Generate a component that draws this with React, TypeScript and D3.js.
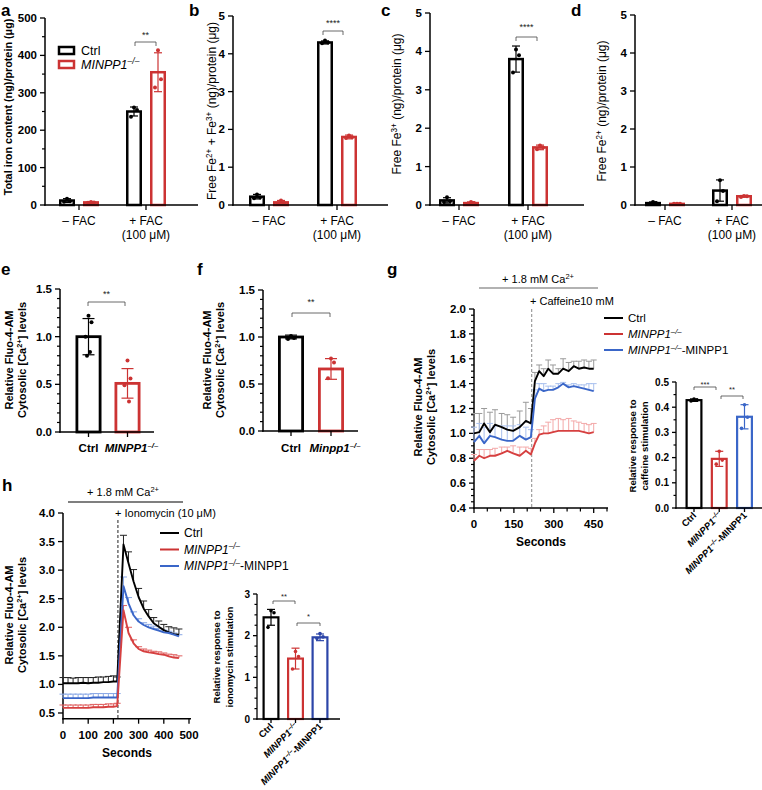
import React from "react";
import * as d3 from "d3";

const FONT = "'Liberation Sans', Arial, Helvetica, sans-serif";
const BLK = "#000";
const RED = "#cc3333";
const BLUE = "#3a66c8";
const DBLUE = "#2c45a8";

// ---------- a–d : iron content ----------
const feGroups = ["– FAC", "+ FAC"];
const feGroupSub = ["", "(100 μM)"];
const feSeries = ["Ctrl", "MINPP1"];

const aCtrl = [12, 250];
const aCtrlSd = [5, 12];
const aCtrlPts = [[17, 10, 9], [261, 254, 236]];
const aKo = [7, 355];
const aKoSd = [2, 52];
const aKoPts = [[8, 7, 6], [414, 336, 314]];
const aTicks = [0, 100, 200, 300, 400, 500];
const aMinor = [50, 150, 250, 350, 450];

const bCtrl = [0.22, 4.3];
const bCtrlSd = [0.06, 0.04];
const bCtrlPts = [[0.28, 0.2, 0.18], [4.35, 4.3, 4.28]];
const bKo = [0.07, 1.8];
const bKoSd = [0.05, 0.05];
const bKoPts = [[0.12, 0.05, 0.04], [1.84, 1.79, 1.77]];

const cCtrl = [0.12, 3.8];
const cCtrlSd = [0.07, 0.34];
const cCtrlPts = [[0.2, 0.1, 0.08], [4.05, 3.9, 3.45]];
const cKo = [0.05, 1.5];
const cKoSd = [0.03, 0.06];
const cKoPts = [[0.08, 0.05, 0.03], [1.55, 1.5, 1.45]];

const dCtrl = [0.05, 0.38];
const dCtrlSd = [0.03, 0.28];
const dCtrlPts = [[0.08, 0.05, 0.03], [0.65, 0.37, 0.1]];
const dKo = [0.03, 0.23];
const dKoSd = [0.01, 0.02];
const dKoPts = [[0.03, 0.03, 0.03], [0.24, 0.23, 0.21]];
const feTicks = [0, 1, 2, 3, 4, 5];

// ---------- e, f : cytosolic Ca ----------
const eCats = ["Ctrl", "MINPP1"];
const eMean = [1.0, 0.51];
const eSd = [0.19, 0.155];
const ePts = [[1.22, 1.15, 1.0, 0.84, 0.8], [0.75, 0.56, 0.49, 0.32]];
const fCats = ["Ctrl", "Minpp1"];
const fMean = [1.0, 0.66];
const fSd = [0.02, 0.11];
const fPts = [[1.01, 0.99, 0.98], [0.77, 0.73, 0.56]];
const caTicks = [0, 0.5, 1.0, 1.5];
const caMinor = [0.1, 0.2, 0.3, 0.4, 0.6, 0.7, 0.8, 0.9, 1.1, 1.2, 1.3, 1.4];

// ---------- g : caffeine time course ----------
const gTime = [0, 20, 38, 60, 79, 104, 125, 147, 172, 195, 214, 229, 245, 262, 279, 297, 317, 335, 356, 375, 394, 414, 432, 450];
const gCtrl = [1.0, 1.01, 1.08, 1.01, 1.07, 1.05, 1.03, 1.02, 1.05, 1.1, 1.08, 1.42, 1.5, 1.46, 1.52, 1.48, 1.48, 1.52, 1.5, 1.54, 1.52, 1.53, 1.52, 1.52];
const gCtrlSd = [0.16, 0.15, 0.12, 0.16, 0.12, 0.11, 0.12, 0.11, 0.13, 0.15, 0.12, 0.07, 0.05, 0.06, 0.07, 0.07, 0.04, 0.08, 0.07, 0.04, 0.06, 0.06, 0.06, 0.07];
const gKo = [0.78, 0.82, 0.8, 0.82, 0.82, 0.84, 0.86, 0.84, 0.82, 0.86, 0.83, 0.92, 0.99, 1.0, 1.0, 1.01, 1.02, 1.02, 1.02, 1.02, 1.02, 1.01, 1.0, 1.01];
const gKoSd = [0.05, 0.05, 0.07, 0.05, 0.06, 0.05, 0.03, 0.06, 0.07, 0.03, 0.05, 0.04, 0.04, 0.06, 0.09, 0.1, 0.1, 0.09, 0.1, 0.08, 0.07, 0.07, 0.07, 0.07];
const gRes = [0.93, 0.98, 0.92, 0.98, 0.97, 0.95, 0.94, 0.94, 0.98, 0.95, 0.97, 1.28, 1.36, 1.34, 1.35, 1.35, 1.37, 1.4, 1.37, 1.38, 1.37, 1.36, 1.35, 1.34];
const gResSd = [0.12, 0.1, 0.13, 0.1, 0.09, 0.11, 0.12, 0.12, 0.09, 0.1, 0.06, 0.07, 0.04, 0.06, 0.03, 0.03, 0.03, 0.01, 0.02, 0.02, 0.02, 0.03, 0.05, 0.06];
const gYTicks = [0.4, 0.6, 0.8, 1.0, 1.2, 1.4, 1.6, 1.8, 2.0];
const gXTicks = [0, 150, 300, 450];
const gXMinor = [50, 100, 200, 250, 350, 400, 500];
const gStim = 217;

const insetCats = ["Ctrl", "KO", "KO-MINPP1"];
const gInMean = [0.428, 0.195, 0.362];
const gInSd = [0.005, 0.03, 0.048];
const gInPts = [[0.432, 0.428, 0.425], [0.225, 0.19, 0.174], [0.41, 0.36, 0.316]];
const gInTicks = [0, 0.1, 0.2, 0.3, 0.4, 0.5];

// ---------- h : ionomycin time course ----------
const hTime = [0, 20, 40, 60, 80, 100, 120, 140, 160, 180, 200, 215, 240, 260, 280, 300, 320, 340, 360, 380, 400, 420, 440, 460];
const hCtrl = [1.02, 1.02, 1.02, 1.02, 1.03, 1.02, 1.03, 1.03, 1.04, 1.04, 1.05, 1.05, 3.45, 3.12, 2.8, 2.53, 2.33, 2.19, 2.07, 2.01, 1.95, 1.91, 1.88, 1.87];
const hCtrlSd = [0.1, 0.1, 0.09, 0.1, 0.09, 0.1, 0.09, 0.1, 0.09, 0.1, 0.1, 0.08, 0.16, 0.2, 0.21, 0.15, 0.13, 0.12, 0.1, 0.1, 0.1, 0.1, 0.11, 0.1];
const hKo = [0.59, 0.59, 0.59, 0.59, 0.59, 0.59, 0.6, 0.6, 0.6, 0.61, 0.61, 0.62, 2.3, 1.9, 1.72, 1.62, 1.58, 1.56, 1.55, 1.53, 1.52, 1.49, 1.47, 1.46];
const hKoSd = [0.05, 0.05, 0.05, 0.05, 0.05, 0.05, 0.05, 0.05, 0.05, 0.05, 0.05, 0.05, 0.08, 0.1, 0.06, 0.04, 0.04, 0.04, 0.03, 0.04, 0.03, 0.04, 0.05, 0.04];
const hRes = [0.76, 0.76, 0.76, 0.76, 0.76, 0.76, 0.77, 0.77, 0.77, 0.77, 0.77, 0.77, 2.72, 2.42, 2.21, 2.1, 2.04, 2.0, 1.97, 1.94, 1.91, 1.9, 1.87, 1.84];
const hResSd = [0.07, 0.07, 0.07, 0.07, 0.07, 0.07, 0.07, 0.07, 0.07, 0.07, 0.07, 0.07, 0.16, 0.1, 0.06, 0.05, 0.04, 0.05, 0.05, 0.04, 0.04, 0.03, 0.03, 0.03];
const hYTicks = [0.5, 1.0, 1.5, 2.0, 2.5, 3.0, 3.5, 4.0];
const hXTicks = [0, 100, 200, 300, 400, 500];
const hStim = 218;

const hInMean = [2.44, 1.45, 1.96];
const hInSd = [0.19, 0.25, 0.08];
const hInPts = [[2.6, 2.55, 2.2], [1.62, 1.5, 1.2], [2.05, 1.97, 1.93]];
const hInTicks = [0, 1, 2, 3];
const hInMinor = [0.25, 0.5, 0.75, 1.25, 1.5, 1.75, 2.25, 2.5, 2.75];

// ---------- helpers ----------
const JIT = [0, 3, -3, 1.5, -1.5];

function KO({ name = "MINPP1", suffix }: { name?: string; suffix?: string }) {
  return (
    <>
      <tspan fontStyle="italic">{name}</tspan>
      <tspan fontStyle="italic" fontSize="68%" dy="-0.55em">–/–</tspan>
      {suffix ? <tspan dy="0.374em" fontStyle="normal">{suffix}</tspan> : null}
    </>
  );
}

function YAxis({ y, x, ticks, minor = [], fmt, fs = 11.5, len = 5, mlen = 3, sw = 1.5 }: any) {
  const r = y.range();
  return (
    <g>
      <line x1={x} x2={x} y1={r[0] + sw / 2} y2={r[1]} stroke={BLK} strokeWidth={sw} />
      {minor.map((t: number, i: number) => (
        <line key={"m" + i} x1={x - mlen} x2={x} y1={y(t)} y2={y(t)} stroke={BLK} strokeWidth={1.2} />
      ))}
      {ticks.map((t: number, i: number) => (
        <g key={i}>
          <line x1={x - len} x2={x} y1={y(t)} y2={y(t)} stroke={BLK} strokeWidth={1.3} />
          <text x={x - len - 3} y={y(t)} dy="0.35em" textAnchor="end" fontSize={fs} fontWeight="bold">
            {fmt(t)}
          </text>
        </g>
      ))}
    </g>
  );
}

function XAxisLine({ x1, x2, y, ticks = [], len = 5, sw = 1.5 }: any) {
  return (
    <g>
      <line x1={x1 - sw / 2} x2={x2} y1={y} y2={y} stroke={BLK} strokeWidth={sw} />
      {ticks.map((t: number, i: number) => (
        <line key={i} x1={t} x2={t} y1={y} y2={y + len} stroke={BLK} strokeWidth={1.3} />
      ))}
    </g>
  );
}

function Bars({ cx, y, mean, sd, pts, colors, ptColors, w, sw = 2.5, capW = 8, r = 2, ebw = 1.2 }: any) {
  const y0 = y(0);
  return (
    <g>
      {mean.map((m: number, i: number) => {
        const ym = y(m);
        const lo = y(Math.max(0, m - sd[i]));
        const hi = y(m + sd[i]);
        const c = cx[i];
        return (
          <g key={i}>
            <rect x={c - w / 2 + sw / 2} y={ym} width={w - sw} height={y0 - ym} fill="#fff" stroke={colors[i]} strokeWidth={sw} />
            <line x1={c} x2={c} y1={lo} y2={hi} stroke={colors[i]} strokeWidth={ebw} />
            <line x1={c - capW / 2} x2={c + capW / 2} y1={hi} y2={hi} stroke={colors[i]} strokeWidth={ebw} />
            <line x1={c - capW / 2} x2={c + capW / 2} y1={lo} y2={lo} stroke={colors[i]} strokeWidth={ebw} />
            {pts[i].map((v: number, j: number) => (
              <circle key={j} cx={c + JIT[j % JIT.length]} cy={y(v)} r={r} fill={ptColors[i]} />
            ))}
          </g>
        );
      })}
    </g>
  );
}

function Sig({ x1, x2, y, ty, label, fs = 9, drop = 4 }: any) {
  return (
    <g>
      <path d={`M${x1},${y + drop}V${y}H${x2}V${y + drop}`} fill="none" stroke="#444" strokeWidth={0.8} />
      <text x={(x1 + x2) / 2} y={ty + fs * 0.57} textAnchor="middle" fontSize={fs} fill="#222">
        {label}
      </text>
    </g>
  );
}

function RotText({ x, y, fs, bold = false, children }: any) {
  return (
    <text transform={`translate(${x},${y}) rotate(-90)`} textAnchor="middle" fontSize={fs} fontWeight={bold ? "bold" : "normal"} dy="0.35em">
      {children}
    </text>
  );
}

function Letter({ x, y, t }: any) {
  return (
    <text x={x} y={y} fontSize={17} fontWeight="bold">
      {t}
    </text>
  );
}

// ---------- panel a–d ----------
function FePanel(p: any) {
  const y = d3.scaleLinear().domain([0, p.ymax]).range([205, p.yTop]);
  const xg = d3.scalePoint<string>().domain(feGroups).range([p.g0, p.g1]);
  const xs = d3.scalePoint<string>().domain(feSeries).range([-12, 12]);
  const ctrlX = feGroups.map((g) => (xg(g) as number) + (xs("Ctrl") as number));
  const koX = feGroups.map((g) => (xg(g) as number) + (xs("MINPP1") as number));
  return (
    <g>
      <Letter x={p.lx} y={15.5} t={p.letter} />
      <RotText x={p.ylabX} y={p.ylabY} fs={p.ylabFs} bold={p.ylabBold}>
        {p.ylab}
      </RotText>
      <YAxis y={y} x={p.x0} ticks={p.ticks} minor={p.minor || []} fmt={p.fmt} />
      <Bars cx={ctrlX} y={y} mean={p.ctrl} sd={p.ctrlSd} pts={p.ctrlPts} colors={[BLK, BLK]} ptColors={[BLK, BLK]} w={16} />
      <Bars cx={koX} y={y} mean={p.ko} sd={p.koSd} pts={p.koPts} colors={[RED, RED]} ptColors={[RED, RED]} w={16} />
      <XAxisLine x1={p.x0} x2={p.xEnd} y={205} ticks={feGroups.map((g) => xg(g))} />
      {feGroups.map((g, i) => (
        <g key={g}>
          <text x={xg(g)} y={225} textAnchor="middle" fontSize={12}>
            {g}
          </text>
          {feGroupSub[i] ? (
            <text x={xg(g)} y={238.5} textAnchor="middle" fontSize={12}>
              {feGroupSub[i]}
            </text>
          ) : null}
        </g>
      ))}
      {p.sig ? <Sig {...p.sig} /> : null}
      {p.legend ? (
        <g>
          <rect x={59} y={47} width={15} height={7} fill="#fff" stroke={BLK} strokeWidth={2.5} />
          <text x={81} y={55} fontSize={12.5}>Ctrl</text>
          <rect x={59} y={61} width={15} height={7} fill="#fff" stroke={RED} strokeWidth={2.5} />
          <text x={81} y={69} fontSize={12.5}>
            <KO />
          </text>
        </g>
      ) : null}
    </g>
  );
}

// ---------- panel e/f ----------
function CaBarPanel(p: any) {
  const y = d3.scaleLinear().domain([0, 1.5]).range([p.yb, p.yt]);
  const x = d3.scalePoint<string>().domain(p.cats).range([p.c0, p.c1]);
  const cx = p.cats.map((c: string) => x(c));
  return (
    <g>
      <Letter x={p.lx} y={275} t={p.letter} />
      <RotText x={p.lab1} y={360} fs={11} bold>
        Relative Fluo-4-AM
      </RotText>
      <RotText x={p.lab2} y={360} fs={11} bold>
        <tspan>Cytosolic [Ca</tspan>
        <tspan fontSize="68%" dy="-0.55em">2+</tspan>
        <tspan dy="0.374em">] levels</tspan>
      </RotText>
      <YAxis y={y} x={p.x0} ticks={caTicks} minor={caMinor} fmt={d3.format(".1f")} />
      <Bars cx={cx} y={y} mean={p.mean} sd={p.sd} pts={p.pts} colors={[BLK, RED]} ptColors={[BLK, RED]} w={26} sw={2.8} capW={12} />
      <XAxisLine x1={p.x0} x2={p.xEnd} y={p.yb} ticks={cx} />
      <text x={cx[0]} y={452} textAnchor="middle" fontSize={11.5} fontWeight="bold">Ctrl</text>
      <text x={cx[1] + 4} y={452} textAnchor="middle" fontSize={11.5} fontWeight="bold">
        <KO name={p.koName} />
      </text>
      <Sig {...p.sig} />
    </g>
  );
}

// ---------- time course ----------
function TimeCourse(p: any) {
  const { x, y, series, capW = 6 } = p;
  const line = d3
    .line<number>()
    .x((_, i) => x(p.time[i]))
    .y((d) => y(d));
  return (
    <g>
      {series.map((s: any, k: number) => (
        <g key={"e" + k}>
          {s.vals.map((v: number, i: number) => {
            const xx = x(p.time[i]);
            const top = y(v + s.sd[i]);
            return (
              <g key={i}>
                <line x1={xx} x2={xx} y1={y(v)} y2={top} stroke={s.err} strokeWidth={1} />
                <line x1={xx - capW / 2} x2={xx + capW / 2} y1={top} y2={top} stroke={s.err} strokeWidth={1} />
              </g>
            );
          })}
        </g>
      ))}
      {series.map((s: any, k: number) => (
        <path key={"l" + k} d={line(s.vals) as string} fill="none" stroke={s.color} strokeWidth={1.9} strokeLinejoin="round" />
      ))}
    </g>
  );
}

function InsetBars(p: any) {
  const y = d3.scaleLinear().domain([0, p.ymax]).range([p.yb, p.yt]);
  const x = d3.scalePoint<string>().domain(insetCats).range([p.c0, p.c2]);
  const cx = insetCats.map((c) => x(c));
  return (
    <g>
      <RotText x={p.lab1} y={p.labY} fs={9.5} bold>
        Relative response to
      </RotText>
      <RotText x={p.lab2} y={p.labY} fs={9.5} bold>
        {p.stim}
      </RotText>
      <YAxis y={y} x={p.x0} ticks={p.ticks} minor={p.minor} fmt={p.fmt} fs={10} len={4} mlen={2.5} sw={1.3} />
      <Bars cx={cx} y={y} mean={p.mean} sd={p.sd} pts={p.pts} colors={[BLK, RED, p.blue]} ptColors={[BLK, RED, p.blue]} w={17} sw={2.2} capW={8} r={1.8} />
      <XAxisLine x1={p.x0} x2={p.xEnd} y={p.yb} ticks={cx} len={4} sw={1.3} />
      {cx.map((c, i) => (
        <text key={i} transform={`translate(${(c as number) + 3},${p.yb + 8}) rotate(-45)`} textAnchor="end" fontSize={9.5} fontWeight="bold">
          {i === 0 ? "Ctrl" : i === 1 ? <KO /> : <KO suffix="-MINPP1" />}
        </text>
      ))}
      {p.sigs.map((s: any, i: number) => (
        <Sig key={i} {...s} fs={7.5} drop={3} />
      ))}
    </g>
  );
}

function Legend({ x, y0, dy, fs }: any) {
  const items = [
    { c: BLK, t: <tspan>Ctrl</tspan> },
    { c: RED, t: <KO /> },
    { c: BLUE, t: <KO suffix="-MINPP1" /> },
  ];
  return (
    <g>
      {items.map((it, i) => (
        <g key={i}>
          <line x1={x} x2={x + 19} y1={y0 + i * dy} y2={y0 + i * dy} stroke={it.c} strokeWidth={2} />
          <text x={x + 24} y={y0 + i * dy} dy="0.35em" fontSize={fs}>
            {it.t}
          </text>
        </g>
      ))}
    </g>
  );
}

export default function App() {
  const gx = d3.scaleLinear().domain([0, 500]).range([474, 607]);
  const gy = d3.scaleLinear().domain([0.4, 2.0]).range([508, 309]);
  const gYMinor = d3.range(0.45, 2.0, 0.05).filter((v) => Math.abs(v * 5 - Math.round(v * 5)) > 0.01);
  const hx = d3.scaleLinear().domain([0, 500]).range([63, 189]);
  const hy = d3.scaleLinear().domain([0.4, 4.0]).range([718.7, 513]);

  return (
    <svg width={762} height={790} viewBox="0 0 762 790" fontFamily={FONT} style={{ position: "absolute", left: 0, top: 0 }}>
      <rect width={762} height={790} fill="#fff" />

      <FePanel
        letter="a" lx={1} x0={45} xEnd={198} g0={79} g1={146} yTop={18} ymax={500}
        ticks={aTicks} minor={aMinor} fmt={d3.format("d")}
        ctrl={aCtrl} ctrlSd={aCtrlSd} ctrlPts={aCtrlPts} ko={aKo} koSd={aKoSd} koPts={aKoPts}
        ylab="Total iron content (ng)/protein (μg)" ylabX={8} ylabY={107} ylabFs={10.8} ylabBold
        sig={{ x1: 135, x2: 156, y: 42, ty: 33, label: "**" }} legend
      />
      <FePanel
        letter="b" lx={189} x0={233} xEnd={388} g0={269} g1={337} yTop={16} ymax={5}
        ticks={feTicks} fmt={d3.format("d")}
        ctrl={bCtrl} ctrlSd={bCtrlSd} ctrlPts={bCtrlPts} ko={bKo} koSd={bKoSd} koPts={bKoPts}
        ylab={
          <>
            <tspan>Free Fe</tspan>
            <tspan fontSize="68%" dy="-0.55em">2+</tspan>
            <tspan dy="0.374em">{" + Fe"}</tspan>
            <tspan fontSize="68%" dy="-0.55em">3+</tspan>
            <tspan dy="0.374em">{" (ng)/protein (μg)"}</tspan>
          </>
        }
        ylabX={212} ylabY={111} ylabFs={12}
        sig={{ x1: 323, x2: 343, y: 31, ty: 21, label: "****" }}
      />
      <FePanel
        letter="c" lx={381} x0={430} xEnd={584} g0={459} g1={528} yTop={13} ymax={5}
        ticks={feTicks} fmt={d3.format("d")}
        ctrl={cCtrl} ctrlSd={cCtrlSd} ctrlPts={cCtrlPts} ko={cKo} koSd={cKoSd} koPts={cKoPts}
        ylab={
          <>
            <tspan>Free Fe</tspan>
            <tspan fontSize="68%" dy="-0.55em">3+</tspan>
            <tspan dy="0.374em">{" (ng)/protein (μg)"}</tspan>
          </>
        }
        ylabX={397} ylabY={104} ylabFs={12}
        sig={{ x1: 516, x2: 537, y: 37, ty: 25, label: "****" }}
      />
      <FePanel
        letter="d" lx={571} x0={635} xEnd={762} g0={665} g1={732} yTop={15} ymax={5}
        ticks={feTicks} fmt={d3.format("d")}
        ctrl={dCtrl} ctrlSd={dCtrlSd} ctrlPts={dCtrlPts} ko={dKo} koSd={dKoSd} koPts={dKoPts}
        ylab={
          <>
            <tspan>Free Fe</tspan>
            <tspan fontSize="68%" dy="-0.55em">2+</tspan>
            <tspan dy="0.374em">{" (ng)/protein (μg)"}</tspan>
          </>
        }
        ylabX={602} ylabY={111} ylabFs={12}
      />

      <CaBarPanel
        letter="e" lx={1} x0={60} xEnd={154} yb={432} yt={289} c0={88.5} c1={127.5}
        cats={eCats} mean={eMean} sd={eSd} pts={ePts} lab1={9} lab2={22} koName="MINPP1"
        sig={{ x1: 88, x2: 125, y: 302, ty: 292, label: "**" }}
      />
      <CaBarPanel
        letter="f" lx={197} x0={263} xEnd={358} yb={431} yt={290} c0={291} c1={331}
        cats={fCats} mean={fMean} sd={fSd} pts={fPts} lab1={207} lab2={220} koName="Minpp1"
        sig={{ x1: 292, x2: 330, y: 313, ty: 300, label: "**" }}
      />

      {/* ---------- g ---------- */}
      <Letter x={387} y={275} t="g" />
      <text x={538} y={283} textAnchor="middle" fontSize={11}>
        <tspan>+ 1.8 mM Ca</tspan>
        <tspan fontSize="68%" dy="-0.55em">2+</tspan>
      </text>
      <line x1={479} x2={598} y1={288} y2={288} stroke="#999" strokeWidth={1.5} />
      <text x={530} y={305} fontSize={11}>+ Caffeine10 mM</text>
      <line x1={gx(gStim)} x2={gx(gStim)} y1={309} y2={508} stroke="#888" strokeWidth={1} strokeDasharray="3,2" />
      <RotText x={418} y={407} fs={11} bold>
        Relative Fluo-4-AM
      </RotText>
      <RotText x={431} y={407} fs={11} bold>
        <tspan>Cytosolic [Ca</tspan>
        <tspan fontSize="68%" dy="-0.55em">2+</tspan>
        <tspan dy="0.374em">] levels</tspan>
      </RotText>
      <YAxis y={gy} x={474} ticks={gYTicks} minor={gYMinor} fmt={d3.format(".1f")} />
      <XAxisLine x1={474} x2={608} y={508} ticks={gXTicks.map((t) => gx(t))} />
      {gXMinor.map((t) => (
        <line key={t} x1={gx(t)} x2={gx(t)} y1={508} y2={511.5} stroke={BLK} strokeWidth={1.2} />
      ))}
      {gXTicks.map((t) => (
        <text key={t} x={gx(t)} y={528} textAnchor="middle" fontSize={11.5} fontWeight="bold">
          {t}
        </text>
      ))}
      <text x={541} y={546} textAnchor="middle" fontSize={12} fontWeight="bold">Seconds</text>
      <TimeCourse
        x={gx} y={gy} time={gTime}
        series={[
          { vals: gCtrl, sd: gCtrlSd, color: BLK, err: "#9a9a9a" },
          { vals: gRes, sd: gResSd, color: BLUE, err: "#a9c0ee" },
          { vals: gKo, sd: gKoSd, color: "#d64040", err: "#f3a8a8" },
        ]}
      />
      <Legend x={604} y0={318} dy={16} fs={11.5} />
      <InsetBars
        x0={676} xEnd={762} yb={508} yt={382} ymax={0.5} c0={694} c2={744.5}
        ticks={gInTicks} minor={[0.05, 0.15, 0.25, 0.35, 0.45]} fmt={d3.format(".1f")}
        mean={gInMean} sd={gInSd} pts={gInPts} blue={BLUE}
        lab1={633} lab2={645} labY={446} stim="caffeine stimulation"
        sigs={[
          { x1: 694, x2: 716, y: 387, ty: 383, label: "***" },
          { x1: 721, x2: 743, y: 396, ty: 388, label: "**" },
        ]}
      />

      {/* ---------- h ---------- */}
      <Letter x={2} y={491} t="h" />
      <text x={123} y={496} textAnchor="middle" fontSize={11}>
        <tspan>+ 1.8 mM Ca</tspan>
        <tspan fontSize="68%" dy="-0.55em">2+</tspan>
      </text>
      <line x1={68} x2={183} y1={502} y2={502} stroke={BLK} strokeWidth={1.1} />
      <text x={115} y={517} fontSize={11}>+ Ionomycin (10 μM)</text>
      <line x1={hx(hStim)} x2={hx(hStim)} y1={520} y2={718} stroke="#222" strokeWidth={1} strokeDasharray="3,2" />
      <RotText x={9} y={615} fs={11} bold>
        Relative Fluo-4-AM
      </RotText>
      <RotText x={22} y={615} fs={11} bold>
        <tspan>Cytosolic [Ca</tspan>
        <tspan fontSize="68%" dy="-0.55em">2+</tspan>
        <tspan dy="0.374em">] levels</tspan>
      </RotText>
      <YAxis y={hy} x={63} ticks={hYTicks} fmt={d3.format(".1f")} />
      <XAxisLine x1={63} x2={191} y={718.7} ticks={hXTicks.map((t) => hx(t))} />
      {hXTicks.map((t) => (
        <text key={t} x={hx(t)} y={739} textAnchor="middle" fontSize={11.5} fontWeight="bold">
          {t}
        </text>
      ))}
      <text x={127} y={757} textAnchor="middle" fontSize={12} fontWeight="bold">Seconds</text>
      <TimeCourse
        x={hx} y={hy} time={hTime} capW={7}
        series={[
          { vals: hCtrl, sd: hCtrlSd, color: BLK, err: "#222" },
          { vals: hRes, sd: hResSd, color: BLUE, err: "#8aa8e6" },
          { vals: hKo, sd: hKoSd, color: "#d64040", err: "#e06060" },
        ]}
      />
      <Legend x={160} y0={533} dy={16.5} fs={12} />
      <InsetBars
        x0={257} xEnd={340} yb={719} yt={594} ymax={3} c0={271} c2={320}
        ticks={hInTicks} minor={hInMinor} fmt={d3.format("d")}
        mean={hInMean} sd={hInSd} pts={hInPts} blue={DBLUE}
        lab1={217} lab2={230} labY={657} stim="ionomycin stimulation"
        sigs={[
          { x1: 273, x2: 295, y: 601, ty: 595, label: "**" },
          { x1: 297, x2: 320, y: 623, ty: 615, label: "*" },
        ]}
      />
    </svg>
  );
}
